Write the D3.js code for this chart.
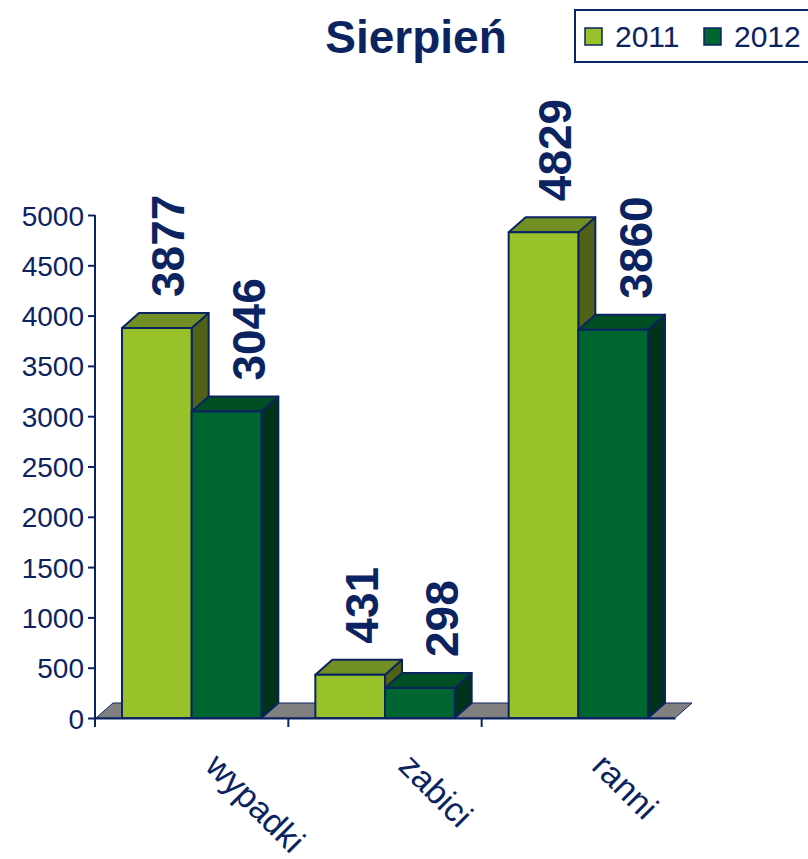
<!DOCTYPE html>
<html><head><meta charset="utf-8">
<script src="https://cdn.jsdelivr.net/npm/d3@7"></script>
<style>body{margin:0;background:#fff}svg{display:block}text{font-family:"Liberation Sans",Arial,sans-serif}</style>
</head><body>
<svg id="c" width="808" height="859"></svg>
<script>
const categories = ["wypadki", "zabici", "ranni"];
const seriesNames = ["2011", "2012"];
const values2011 = [3877, 431, 4829];
const values2012 = [3046, 298, 3860];
const yTicks = [0, 500, 1000, 1500, 2000, 2500, 3000, 3500, 4000, 4500, 5000];
const title = "Sierpień";

const navy = "#0b2461";
const colors = {
  "2011": {front: "#99c22a", top: "#718f22", side: "#4f6218"},
  "2012": {front: "#006631", top: "#004e24", side: "#003319"}
};
const DX = 17, DY = -15;

const svg = d3.select("#c");
const x0 = 95, x1 = 675, yBase = 718, yTop = 215;
const x = d3.scaleBand().domain(categories).range([x0, x1]).paddingInner(0).paddingOuter(0);
const y = d3.scaleLinear().domain([0, 5000]).range([yBase, yTop]);
const inner = d3.scaleBand().domain(seriesNames).range([27, x.bandwidth() - 27]).padding(0);

// floor
svg.append("polygon")
  .attr("points", [[x0+1, yBase], [x0+1+DX, yBase+DY], [x1+DX, yBase+DY], [x1, yBase]].map(p=>p.join(",")).join(" "))
  .attr("fill", "#808080").attr("stroke", navy).attr("stroke-width", 1);

// axes
const yAxis = d3.axisLeft(y).tickValues(yTicks).tickSize(7).tickSizeOuter(0).tickFormat(d3.format("d"));
const gy = svg.append("g").attr("transform", `translate(${x0},0)`).call(yAxis);
gy.select(".domain").attr("stroke", navy).attr("stroke-width", 2).attr("d", `M0,${yTop}V${yBase+9}`);
gy.selectAll(".tick line").attr("stroke", navy).attr("stroke-width", 2);
gy.selectAll(".tick text").attr("fill", navy).attr("font-size", 28).attr("x", -11).attr("dy", "0.36em")
  .attr("font-family", '"Liberation Sans",Arial,sans-serif');

const xAxis = d3.axisBottom(x).tickSize(9).tickSizeOuter(0).tickFormat("");
const gx = svg.append("g").attr("transform", `translate(0,${yBase})`).call(xAxis);
gx.select(".domain").attr("stroke", navy).attr("stroke-width", 2);
gx.selectAll(".tick").attr("transform", d => `translate(${x(d) + x.bandwidth()},0)`);
gx.selectAll(".tick").filter(d => d === categories[categories.length-1]).remove();
gx.selectAll(".tick line").attr("stroke", navy).attr("stroke-width", 2);

// bars
const data = [];
categories.forEach((c, i) => {
  data.push({cat: c, s: "2011", v: values2011[i]});
  data.push({cat: c, s: "2012", v: values2012[i]});
});
const bars = svg.append("g");
data.forEach(d => {
  const bx = x(d.cat) + inner(d.s), bw = inner.bandwidth();
  const by = y(d.v), bb = y(0);
  const g = bars.append("g").attr("stroke", navy).attr("stroke-width", 2).attr("stroke-linejoin", "round");
  g.append("polygon").attr("fill", colors[d.s].side)
    .attr("points", [[bx+bw, by], [bx+bw+DX, by+DY], [bx+bw+DX, bb+DY], [bx+bw, bb]].map(p=>p.join(",")).join(" "));
  g.append("polygon").attr("fill", colors[d.s].top)
    .attr("points", [[bx, by], [bx+DX, by+DY], [bx+bw+DX, by+DY], [bx+bw, by]].map(p=>p.join(",")).join(" "));
  g.append("rect").attr("fill", colors[d.s].front).attr("x", bx).attr("y", by).attr("width", bw).attr("height", bb - by);
});

// value labels
const labelShift = {"2011": 11, "2012": 22};
svg.append("g").selectAll("text").data(data).join("text")
  .attr("transform", d => `translate(${x(d.cat) + inner(d.s) + inner.bandwidth()/2 + labelShift[d.s]},${y(d.v) - 31}) rotate(-90)`)
  .attr("dy", "0.36em").attr("text-anchor", "start")
  .attr("font-size", 46).attr("font-weight", "bold").attr("fill", navy)
  .text(d => d.v);

// category labels
svg.append("g").selectAll("text").data(categories).join("text")
  .attr("transform", d => `translate(${x(d) + x.bandwidth()/2 + 12},768) rotate(45)`)
  .attr("font-size", 34).attr("fill", navy).text(d => d);

// title
svg.append("text").attr("x", 416).attr("y", 53).attr("text-anchor", "middle")
  .attr("font-size", 46).attr("font-weight", "bold").attr("fill", navy).text(title);

// legend
const lg = svg.append("g");
lg.append("rect").attr("x", 575).attr("y", 10).attr("width", 245).attr("height", 52)
  .attr("fill", "#fff").attr("stroke", navy).attr("stroke-width", 2);
const legX = [585, 704];
seriesNames.forEach((s, i) => {
  lg.append("rect").attr("x", legX[i]).attr("y", 28).attr("width", 17).attr("height", 17)
    .attr("fill", colors[s].front).attr("stroke", navy).attr("stroke-width", 1.5);
  lg.append("text").attr("x", legX[i] + 30).attr("y", 47).attr("font-size", 30).attr("fill", navy).text(s);
});
</script>
</body></html>
